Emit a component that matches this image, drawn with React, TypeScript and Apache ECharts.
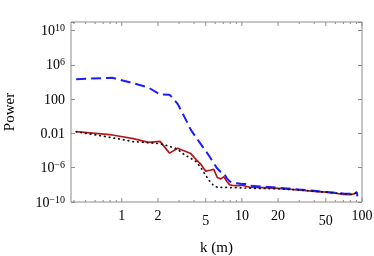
import React, { useEffect, useRef } from "react";
import * as echarts from "echarts";

// k (m) sample positions and log10(Power) values
const kBlue = [0.417, 0.833, 1.25, 1.667, 2.083, 2.5, 2.917, 3.333, 3.75, 4.167, 4.583, 5.0, 5.417, 5.833, 6.25, 6.667, 7.083, 7.5, 7.917, 8.333, 9.167, 10, 10.83, 11.67, 12.5, 15, 20, 30, 40, 50, 60, 70, 80, 87, 90.4, 91.7];
const logPowerBlue = [4.32, 4.5, 3.85, 3.35, 2.55, 2.52, 1.45, -0.1, -1.55, -2.5, -3.3, -4.05, -4.75, -5.5, -6.1, -6.5, -6.65, -7.24, -7.6, -7.75, -7.82, -7.9, -7.9, -8.1, -8.12, -8.2, -8.33, -8.55, -8.7, -8.82, -8.92, -9.0, -9.05, -9.0, -8.85, -9.35];

const kRed = [0.417, 0.833, 1.25, 1.667, 2.083, 2.5, 2.917, 3.333, 3.75, 4.167, 4.583, 5.0, 5.417, 5.833, 6.25, 6.667, 7.083, 7.5, 7.917, 8.333, 9.167, 10, 11.67, 15, 20, 30, 40, 50, 60, 70, 80, 87, 90.4];
const logPowerRed = [-1.8, -2.18, -2.6, -3.05, -2.93, -4.3, -3.73, -4.05, -4.35, -5.05, -5.65, -6.4, -6.3, -6.2, -7.15, -7.3, -7.05, -7.6, -8.0, -8.05, -8.1, -8.05, -8.28, -8.32, -8.42, -8.6, -8.75, -8.85, -8.98, -9.12, -9.15, -9.02, -8.85];

const kBlack = [0.417, 0.833, 1.25, 1.667, 2.083, 2.5, 2.917, 3.333, 3.75, 4.167, 4.583, 5.0, 5.417, 5.833, 6.25, 7.5, 10, 12.5, 20, 30, 40, 50, 60, 70, 80, 87, 90.4];
const logPowerBlack = [-1.8, -2.5, -2.96, -3.08, -3.2, -3.5, -3.85, -4.5, -4.9, -5.3, -6.05, -6.9, -7.6, -8.1, -8.28, -8.3, -8.35, -8.4, -8.45, -8.6, -8.75, -8.85, -8.95, -9.05, -9.1, -9.0, -8.9];

// x-axis ticks (k values) and labels
const xTickValues = [0.4, 0.5, 0.6, 0.7, 0.8, 0.9, 1, 2, 3, 4, 5, 6, 7, 8, 9, 10, 20, 30, 40, 50, 60, 70, 80, 90, 100];
const xMajorTicks = [1, 2, 5, 10, 20, 50, 100];
const xTickLabels = ["1", "2", "5", "10", "20", "50", "100"];

// y-axis ticks (log10 power) and labels
const yTickExponents = [-10, -6, -2, 2, 6, 10];
const yTickLabels = ["{b|10}{s|\u221210}", "{b|10}{s|\u22126}", "{b|0.01}", "{b|100}", "{b|10}{s|6}", "{b|10}{s|10}"];

const X_MIN = -0.4225;
const X_MAX = 2;
const Y_MIN = -10;
const Y_MAX = 11;

const SERIF = "'Liberation Serif', 'DejaVu Serif', serif";
const FRAME = "#8c8c8c";

export default function App() {
  const ref = useRef<HTMLDivElement>(null);

  useEffect(() => {
    if (!ref.current) return;
    const chart = echarts.init(ref.current, undefined, { renderer: "svg" });

    const toPts = (ks: number[], ys: number[]) => ks.map((k, i) => [Math.log10(k), ys[i]]);

    const yFormatter = (v: number) => {
      const r = Math.round(v);
      if (Math.abs(v - r) > 1e-6) return "";
      const i = yTickExponents.indexOf(r);
      return i >= 0 ? yTickLabels[i] : "";
    };

    const rich = {
      b: { fontSize: 14, fontFamily: SERIF, color: "#000", lineHeight: 16 },
      s: { fontSize: 10, fontFamily: SERIF, color: "#000", verticalAlign: "top", lineHeight: 10 },
    };

    const tickData = xTickValues.map((k) => [Math.log10(k), xMajorTicks.indexOf(k) >= 0 ? 1 : 0]);

    const option: any = {
      animation: false,
      grid: {
        left: 71,
        right: 12,
        top: 22,
        bottom: 54,
        containLabel: false,
        outerBoundsMode: "none",
        show: true,
        borderColor: FRAME,
        borderWidth: 1,
        backgroundColor: "transparent",
      },
      xAxis: {
        type: "value",
        min: X_MIN,
        max: X_MAX,
        axisLine: { show: false, onZero: false },
        axisTick: { show: false },
        axisLabel: { show: false },
        splitLine: { show: false },
        name: "k (m)",
        nameLocation: "middle",
        nameGap: 37,
        nameTextStyle: { fontFamily: SERIF, fontSize: 15, color: "#000" },
      },
      yAxis: [
        {
          type: "value",
          min: Y_MIN,
          max: Y_MAX,
          interval: 4,
          position: "left",
          axisLine: { show: false, onZero: false },
          axisTick: { show: true, inside: true, length: 4, lineStyle: { color: FRAME } },
          axisLabel: { formatter: yFormatter, rich, margin: 6 },
          splitLine: { show: false },
          name: "Power",
          nameLocation: "middle",
          nameGap: 55,
          nameTextStyle: { fontFamily: SERIF, fontSize: 15, color: "#000" },
        },
        {
          type: "value",
          min: Y_MIN,
          max: Y_MAX,
          interval: 4,
          position: "right",
          axisLine: { show: false, onZero: false },
          axisTick: { show: true, inside: true, length: 4, lineStyle: { color: FRAME } },
          axisLabel: { show: false },
          splitLine: { show: false },
        },
      ],
      series: [
        {
          type: "line",
          data: toPts(kRed, logPowerRed),
          showSymbol: false,
          symbol: "none",
          lineStyle: { color: "#b5191c", width: 1.7 },
          z: 3,
        },
        {
          type: "line",
          data: toPts(kBlue, logPowerBlue),
          showSymbol: false,
          symbol: "none",
          lineStyle: { color: "#1c1cff", width: 2, type: [10, 5] },
          z: 4,
        },
        {
          type: "line",
          data: toPts(kBlack, logPowerBlack),
          showSymbol: false,
          symbol: "none",
          lineStyle: { color: "#111", width: 1.7, type: [0.6, 4.2], cap: "round" },
          z: 5,
        },
        {
          type: "custom",
          silent: true,
          clip: false,
          z: 6,
          data: tickData,
          renderItem: (params: any, api: any) => {
            const x = api.value(0);
            const major = api.value(1) === 1;
            const pb = api.coord([x, Y_MIN]);
            const pt = api.coord([x, Y_MAX]);
            const len = major ? 4 : 2;
            const children: any[] = [
              { type: "line", shape: { x1: pb[0], y1: pb[1], x2: pb[0], y2: pb[1] - len }, style: { stroke: FRAME, lineWidth: 1 } },
              { type: "line", shape: { x1: pt[0], y1: pt[1], x2: pt[0], y2: pt[1] + len }, style: { stroke: FRAME, lineWidth: 1 } },
            ];
            const k = xTickValues[params.dataIndex];
            const li = xMajorTicks.indexOf(k);
            if (li >= 0) {
              const label = xTickLabels[li];
              const drop = label.charAt(0) === "5" ? 5 : 0;
              children.push({
                type: "text",
                x: pb[0],
                y: pb[1] + 13 + drop,
                style: { text: label, fontSize: 14, fontFamily: SERIF, fill: "#000", align: "center", verticalAlign: "middle" },
              });
            }
            return { type: "group", children };
          },
        },
      ],
    };

    chart.setOption(option);
    return () => chart.dispose();
  }, []);

  return <div ref={ref} style={{ position: "fixed", left: 0, top: 0, width: 374, height: 256 }} />;
}
